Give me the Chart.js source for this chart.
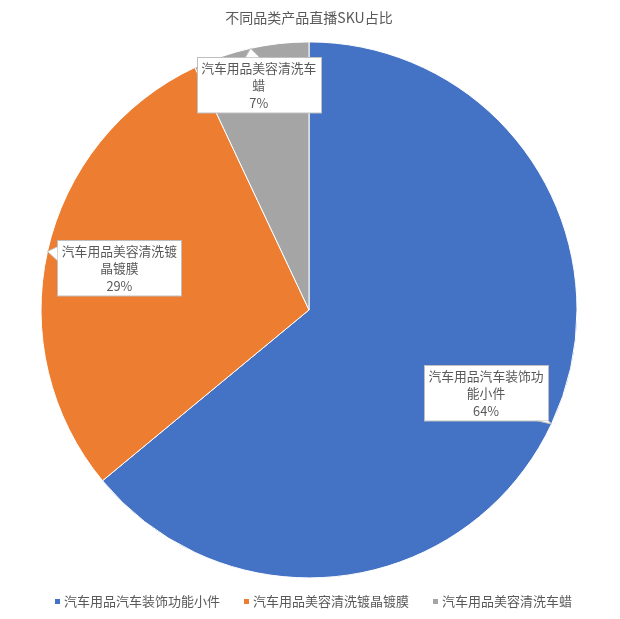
<!DOCTYPE html>
<html>
<head>
<meta charset="utf-8">
<script src="https://cdn.jsdelivr.net/npm/chart.js@4.4.0/dist/chart.umd.min.js"></script>
<style>
    html, body { margin: 0; padding: 0; background: #fff; }
    #wrap { width: 620px; height: 619px; }
</style>
</head>
<body>
<div id="wrap"><canvas id="myChart"></canvas></div>
<script>
var chartTitle = '不同品类产品直播SKU占比';
var categories = ['汽车用品汽车装饰功能小件', '汽车用品美容清洗镀晶镀膜', '汽车用品美容清洗车蜡'];
var shares = [64, 29, 7];
var sliceColors = ['#4472C4', '#ED7D31', '#A5A5A5'];

var FONT = '"Noto Sans CJK SC", "Noto Sans", sans-serif';
var TEXT_COLOR = '#595959';

// how far along the radius each callout box sits
var labelDistance = [0.73, 0.725, 0.86];

function wrapChars(ctx, text, maxWidth) {
    var lines = [];
    var line = '';
    for (var i = 0; i < text.length; i++) {
        var test = line + text[i];
        if (ctx.measureText(test).width > maxWidth && line) {
            lines.push(line);
            line = text[i];
        } else {
            line = test;
        }
    }
    if (line) lines.push(line);
    return lines;
}

var calloutLabels = {
    id: 'calloutLabels',
    afterDatasetsDraw: function (chart) {
        var ctx = chart.ctx;
        var meta = chart.getDatasetMeta(0);
        var total = shares.reduce(function (a, b) { return a + b; }, 0);
        ctx.save();
        ctx.font = '12.8px ' + FONT;
        meta.data.forEach(function (arc, i) {
            var p = arc.getProps(['x', 'y', 'startAngle', 'endAngle', 'outerRadius'], true);
            var mid = (p.startAngle + p.endAngle) / 2;
            var cx = p.x + Math.cos(mid) * p.outerRadius * labelDistance[i];
            var cy = p.y + Math.sin(mid) * p.outerRadius * labelDistance[i];
            var tx = p.x + Math.cos(mid) * p.outerRadius;
            var ty = p.y + Math.sin(mid) * p.outerRadius;

            var lines = wrapChars(ctx, categories[i], 118);
            lines.push(Math.round(shares[i] / total * 100) + '%');
            var lh = 17.5;
            var w = 124, h = lines.length * lh + 3;
            var x0 = Math.round(cx - w / 2) + 0.5, y0 = Math.round(cy - h / 2) + 0.5;

            // pointer base on box edge
            var dx = tx - cx, dy = ty - cy;
            var t = Math.min((w / 2) / Math.abs(dx || 1e-6), (h / 2) / Math.abs(dy || 1e-6));
            var ex = cx + dx * t, ey = cy + dy * t;
            var b1, b2, half = 7;
            if (Math.abs(Math.abs(ex - cx) - w / 2) < 0.5) {
                var ya = Math.max(y0, ey - half), yb = Math.min(y0 + h, ey + half);
                b1 = [ex, ya]; b2 = [ex, yb];
            } else {
                var xa = Math.max(x0, ex - half), xb = Math.min(x0 + w, ex + half);
                b1 = [xa, ey]; b2 = [xb, ey];
            }

            ctx.fillStyle = '#ffffff';
            ctx.strokeStyle = '#bfbfbf';
            ctx.lineWidth = 1;
            ctx.fillRect(x0, y0, w, h);
            ctx.strokeRect(x0, y0, w, h);

            ctx.beginPath();
            ctx.moveTo(b1[0], b1[1]);
            ctx.lineTo(tx, ty);
            ctx.lineTo(b2[0], b2[1]);
            ctx.closePath();
            ctx.fill();
            ctx.beginPath();
            ctx.moveTo(b1[0], b1[1]);
            ctx.lineTo(tx, ty);
            ctx.lineTo(b2[0], b2[1]);
            ctx.stroke();

            ctx.fillStyle = TEXT_COLOR;
            ctx.textAlign = 'center';
            ctx.textBaseline = 'middle';
            lines.forEach(function (ln, k) {
                ctx.fillText(ln, cx, y0 + 1.5 + lh * (k + 0.5));
            });
        });
        ctx.restore();
    },
    afterDraw: function (chart) {
        // legend row under the pie
        var ctx = chart.ctx;
        ctx.save();
        ctx.font = '13px ' + FONT;
        var box = 5, boxGap = 4, itemGap = 24;
        var widths = categories.map(function (c) { return box + boxGap + ctx.measureText(c).width; });
        var totalW = widths.reduce(function (a, b) { return a + b; }, 0) + itemGap * (categories.length - 1);
        var x = chart.width / 2 + 3.5 - totalW / 2;
        var y = 601;
        ctx.textBaseline = 'middle';
        ctx.textAlign = 'left';
        categories.forEach(function (c, i) {
            ctx.fillStyle = sliceColors[i];
            ctx.fillRect(Math.round(x), Math.round(y - box / 2), box, box);
            ctx.fillStyle = TEXT_COLOR;
            ctx.fillText(c, x + box + boxGap, y);
            x += widths[i] + itemGap;
        });
        ctx.restore();
    }
};

var ctx = document.getElementById('myChart');
var myChart = new Chart(ctx, {
    type: 'pie',
    data: {
        labels: categories,
        datasets: [{
            data: shares,
            backgroundColor: sliceColors,
            borderColor: '#ffffff',
            borderWidth: 1,
            radius: 268
        }]
    },
    options: {
        responsive: true,
        maintainAspectRatio: false,
        animation: false,
        layout: {
            padding: { left: 0, right: 2, top: 0, bottom: 34 }
        },
        plugins: {
            title: {
                display: true,
                text: chartTitle,
                color: TEXT_COLOR,
                font: { size: 14, family: FONT, weight: 'normal' },
                padding: { top: 9, bottom: 9 }
            },
            legend: { display: false },
            tooltip: { enabled: false }
        }
    },
    plugins: [calloutLabels]
});
</script>
</body>
</html>
